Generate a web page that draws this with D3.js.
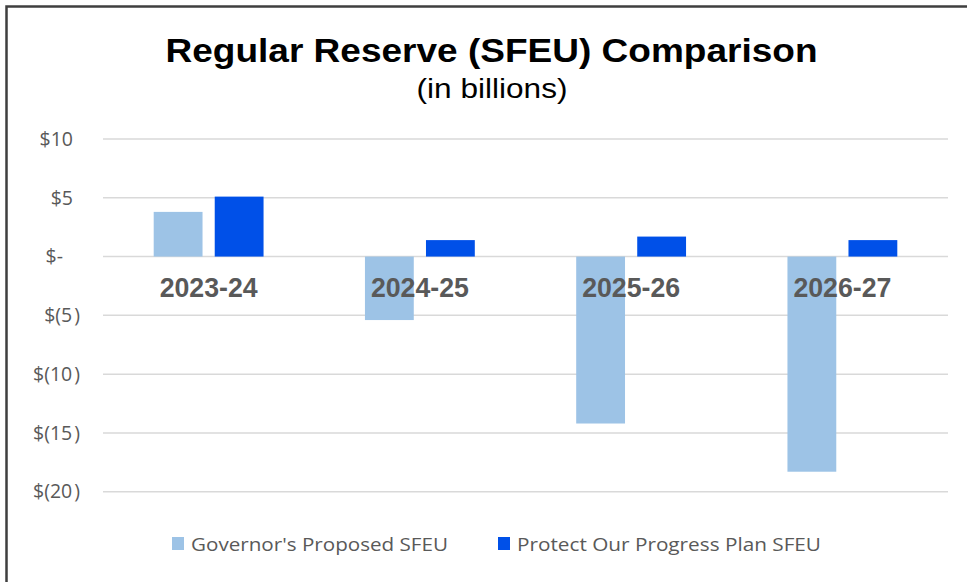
<!DOCTYPE html>
<html>
<head>
<meta charset="utf-8">
<script src="https://cdn.jsdelivr.net/npm/d3@7"></script>
<style>
  html, body { margin: 0; padding: 0; background: #fff; }
  svg { display: block; }
</style>
</head>
<body>
<svg id="chart" width="967" height="582"></svg>
<script>
// ---- Data ----
const categories = ["2023-24", "2024-25", "2025-26", "2026-27"];
const seriesNames = ["Governor's Proposed SFEU", "Protect Our Progress Plan SFEU"];
const governorValues = [3.8, -5.4, -14.2, -18.3];
const protectValues = [5.1, 1.4, 1.7, 1.4];
const yTicks = [10, 5, 0, -5, -10, -15, -20];
const titleText = "Regular Reserve (SFEU) Comparison";
const subtitleText = "(in billions)";

const colors = ["#9DC3E6", "#0050E8"];
const seriesValues = [governorValues, protectValues];

const svg = d3.select("#chart");
const W = 967, H = 582;

svg.append("rect").attr("x", 0).attr("y", 0).attr("width", W).attr("height", H).attr("fill", "#fff");
// outer frame (only top and left visible)
svg.append("rect").attr("x", 6.5).attr("y", 6.5).attr("width", 1000).attr("height", 1000)
  .attr("fill", "none").attr("stroke", "#3f3f3f").attr("stroke-width", 2.5);

// title
svg.append("text").attr("x", 491.5).attr("y", 61.5).attr("text-anchor", "middle")
  .attr("font-family", "Liberation Sans, Arial, sans-serif").attr("font-weight", "bold")
  .attr("font-size", 33).attr("fill", "#000")
  .attr("textLength", 652).attr("lengthAdjust", "spacingAndGlyphs")
  .text(titleText);
svg.append("text").attr("x", 492).attr("y", 97.5).attr("text-anchor", "middle")
  .attr("font-family", "Liberation Sans, Arial, sans-serif")
  .attr("font-size", 27).attr("fill", "#000")
  .attr("textLength", 151).attr("lengthAdjust", "spacingAndGlyphs")
  .text(subtitleText);

// scales
const left = 103, right = 948;
const y = d3.scaleLinear().domain([-20, 10]).range([491.7, 139]);
const x0 = d3.scaleBand().domain(categories).range([left, right]).paddingInner(0.48).paddingOuter(0.24);
const x1 = d3.scaleBand().domain(seriesNames).range([0, x0.bandwidth()]).paddingInner(0.2);

// gridlines
const grid = svg.append("g");
grid.selectAll("line").data(yTicks).join("line")
  .attr("x1", left).attr("x2", right)
  .attr("y1", d => y(d)).attr("y2", d => y(d))
  .attr("stroke", "#d9d9d9").attr("stroke-width", 1.5);

// y axis labels (accounting style)
const fmt = d => d === 0 ? "$-" : (d < 0 ? "$(" + Math.abs(d) : "$" + d);
const yAxis = d3.axisLeft(y).tickValues(yTicks).tickFormat(fmt).tickSize(0).tickPadding(0);
const yg = svg.append("g").attr("transform", "translate(80,0)").call(yAxis);
yg.select(".domain").remove();
yg.selectAll("text")
  .attr("font-family", "Open Sans, sans-serif").attr("font-size", 19.5).attr("fill", "#595959")
  .attr("dx", d => d === 0 ? -17 : (d > 0 ? -7 : 0));
yg.selectAll("text").filter(d => d < 0)
  .append("tspan").attr("dx", 2).text(")");

// bars
const groups = svg.append("g").selectAll("g").data(categories).join("g")
  .attr("transform", d => `translate(${x0(d)},0)`);
groups.selectAll("rect")
  .data((c, i) => seriesNames.map((s, j) => ({ s, j, v: seriesValues[j][i] })))
  .join("rect")
  .attr("x", d => x1(d.s))
  .attr("width", x1.bandwidth())
  .attr("y", d => y(Math.max(0, d.v)))
  .attr("height", d => Math.abs(y(d.v) - y(0)))
  .attr("fill", d => colors[d.j]);

// category labels
const xAxis = d3.axisBottom(x0).tickSize(0).tickPadding(0);
const xg = svg.append("g").attr("transform", `translate(0,${y(0)})`).call(xAxis);
xg.select(".domain").remove();
xg.selectAll("text")
  .attr("y", 40).attr("dy", 0)
  .attr("font-family", "Liberation Sans, Arial, sans-serif").attr("font-weight", "bold")
  .attr("font-size", 27).attr("fill", "#595959")
  .attr("textLength", 98).attr("lengthAdjust", "spacingAndGlyphs");

// legend
const legendItems = [
  { name: seriesNames[0], color: colors[0], x: 172, tl: 257 },
  { name: seriesNames[1], color: colors[1], x: 498, tl: 304 }
];
const lg = svg.append("g").selectAll("g").data(legendItems).join("g")
  .attr("transform", d => `translate(${d.x},0)`);
lg.append("rect").attr("x", 0).attr("y", 537).attr("width", 12).attr("height", 13)
  .attr("fill", d => d.color);
lg.append("text").attr("x", 19).attr("y", 550.5)
  .attr("font-family", "Open Sans, sans-serif").attr("font-size", 19).attr("fill", "#595959")
  .attr("textLength", d => d.tl).attr("lengthAdjust", "spacingAndGlyphs")
  .text(d => d.name);
</script>
</body>
</html>
